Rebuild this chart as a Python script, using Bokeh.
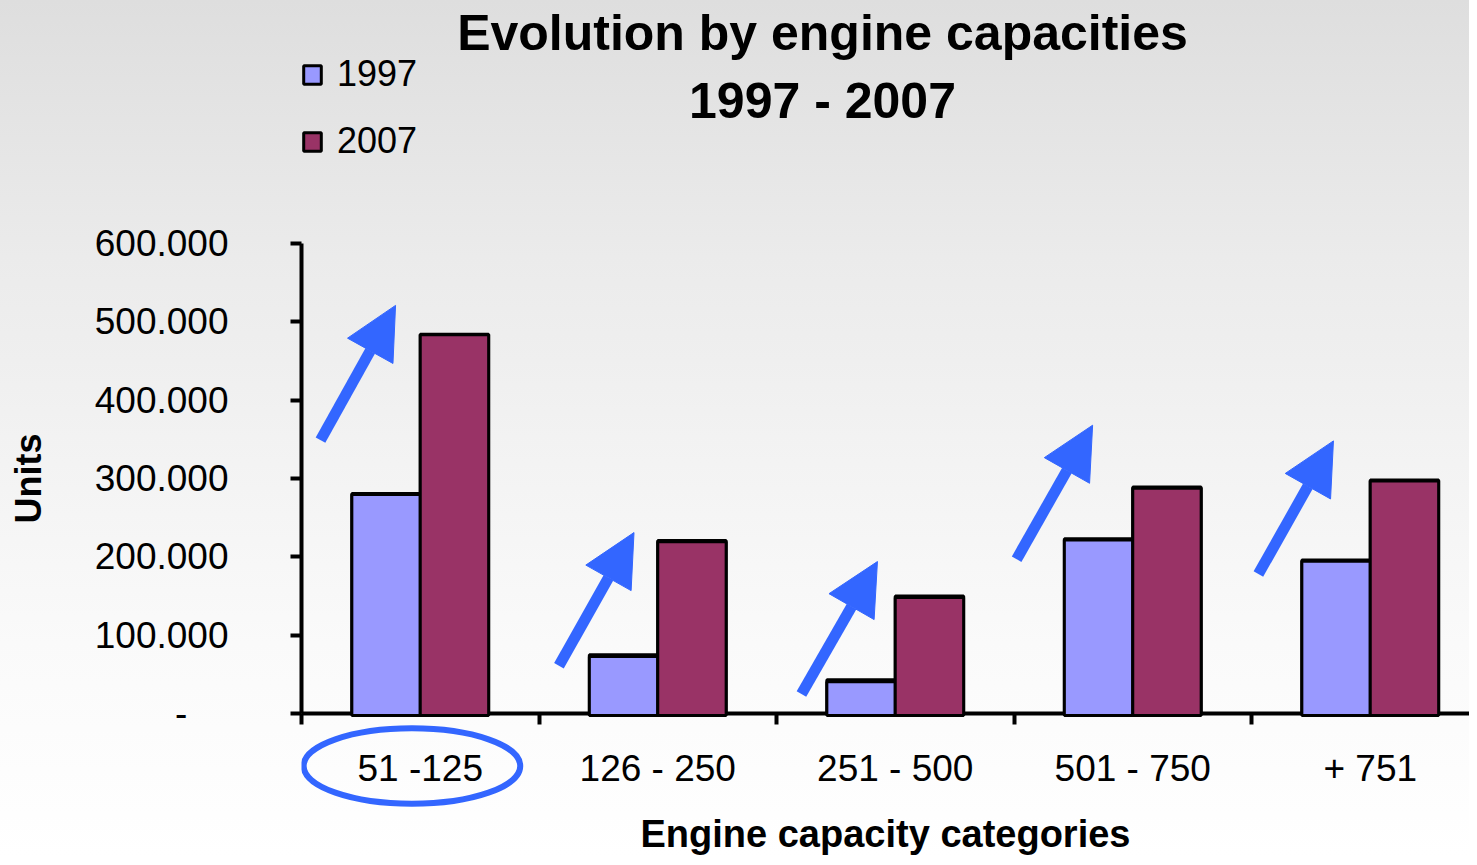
import numpy as np
from bokeh.plotting import figure
from bokeh.layouts import column
from bokeh.models import (FixedTicker, Arrow, NormalHead, Label, Legend, LegendItem,
                          Range1d, ColumnDataSource)
from bokeh.embed import file_html
from bokeh.resources import INLINE

# ---- data ----
categories = ["51 -125", "126 - 250", "251 - 500", "501 - 750", "+ 751"]
units_1997 = [281000, 75000, 43000, 223000, 196000]
units_2007 = [484000, 221000, 150000, 289000, 298000]
y_ticks = [0, 100000, 200000, 300000, 400000, 500000, 600000]
y_tick_labels = ["-\u00a0\u00a0\u00a0\u00a0", "100.000", "200.000", "300.000",
                 "400.000", "500.000", "600.000"]
series = ["1997", "2007"]

# decorative arrows (relative x within category, value units)
arrow_x0 = [0.08, 0.084, 0.105, 0.011, 0.029]
arrow_y0 = [349000, 61000, 25000, 197000, 178000]
arrow_x1 = [0.396, 0.40, 0.425, 0.331, 0.345]
arrow_y1 = [521000, 231000, 194000, 368000, 348000]

C1997 = "#9999FF"
C2007 = "#993366"
BLUE = "#3366FF"
FONT = "Liberation Sans"

W, H = 1469, 857
FL, FT, FB = 301, 243, 715      # frame left / top / bottom (px)
CATW = 237.5
YMAX = 600000
PX = (FB - FT) / YMAX           # px per unit
XR = (W - FL) / CATW

idx = np.arange(len(categories))
src = ColumnDataSource(dict(x1=idx + 0.5 - 0.144, x2=idx + 0.5 + 0.144,
                            v1=units_1997, v2=units_2007))
bar_kw = dict(width=0.288, bottom=0, source=src, line_color="black", line_width=3)

p = figure(width=W, height=H, output_backend="svg", toolbar_location=None,
           x_range=Range1d(0, XR), y_range=Range1d(0, YMAX),
           min_border_left=FL, min_border_right=0, min_border_top=FT,
           min_border_bottom=H - FB)
p.background_fill_alpha = 0
p.border_fill_alpha = 0
p.outline_line_color = None
p.xgrid.visible = False
p.ygrid.visible = False

p.vbar(x="x1", top="v1", fill_color=C1997, **bar_kw)
p.vbar(x="x2", top="v2", fill_color=C2007, **bar_kw)

# x axis: labels at category centres, tick marks at category boundaries
xa = p.xaxis[0]
xa.ticker = FixedTicker(ticks=list(idx + 0.5), minor_ticks=list(range(len(categories) + 1)))
xa.major_label_overrides = {float(i + 0.5): c for i, c in enumerate(categories)}
xa.major_tick_line_color = None
xa.major_tick_out = 0
xa.major_tick_in = 0
xa.minor_tick_out = 11
xa.minor_tick_in = 0
xa.minor_tick_line_width = 4
xa.minor_tick_line_color = "black"
xa.axis_line_width = 4
xa.axis_line_color = "black"
xa.major_label_text_font = FONT
xa.major_label_text_font_size = "37px"
xa.major_label_text_color = "black"
xa.major_label_standoff = 23
xa.axis_label = "Engine capacity categories"
xa.axis_label_text_font = FONT
xa.axis_label_text_font_size = "38px"
xa.axis_label_text_font_style = "bold"
xa.axis_label_text_color = "black"
xa.axis_label_standoff = 21

ya = p.yaxis[0]
ya.ticker = FixedTicker(ticks=y_ticks, minor_ticks=[])
ya.major_label_overrides = {t: l for t, l in zip(y_ticks, y_tick_labels)}
ya.major_tick_out = 11
ya.major_tick_in = 0
ya.major_tick_line_width = 4
ya.axis_line_width = 4
ya.minor_tick_line_color = None
ya.major_label_text_font = FONT
ya.major_label_text_font_size = "37px"
ya.major_label_text_color = "black"
ya.major_label_standoff = 62
ya.axis_label = "Units"
ya.axis_label_text_font = FONT
ya.axis_label_text_font_size = "36px"
ya.axis_label_text_font_style = "bold"
ya.axis_label_text_color = "black"
ya.axis_label_standoff = 43

# arrows
for i in range(len(categories)):
    p.add_layout(Arrow(x_start=i + arrow_x0[i], y_start=arrow_y0[i],
                       x_end=i + arrow_x1[i], y_end=arrow_y1[i],
                       line_color=BLUE, line_width=11,
                       end=NormalHead(size=52, fill_color=BLUE, line_color=BLUE, line_width=1)))

# ---- transparent overlay covering the whole canvas, same scales ----
ov = figure(width=W, height=H, output_backend="svg", toolbar_location=None,
            x_range=Range1d(0, XR),
            y_range=Range1d(-(H - FB) / PX, FB / PX),
            min_border=0, x_axis_location=None, y_axis_location=None)
ov.background_fill_alpha = 0
ov.border_fill_alpha = 0
ov.outline_line_color = None
ov.xgrid.visible = False
ov.ygrid.visible = False
ov.styles = {"position": "absolute", "top": "0px", "left": "0px"}

# same bars (same source, same scale) drawn on the overlay so the legend can use them
k1 = ov.vbar(x="x1", top="v1", fill_color=C1997, **bar_kw)
k2 = ov.vbar(x="x2", top="v2", fill_color=C2007, **bar_kw)

legend = Legend(items=[LegendItem(label=series[0], renderers=[k1]),
                       LegendItem(label=series[1], renderers=[k2])],
                location=(0, 695), glyph_width=22, glyph_height=23,
                label_text_font=FONT, label_text_font_size="36px",
                label_text_color="black",
                label_standoff=14, spacing=25, padding=0, margin=0,
                border_line_alpha=0, background_fill_alpha=0)
ov.add_layout(legend, "center")

# ellipse highlighting the first category label
ov.ellipse(x=[0.465], y=[-64200], width=0.912, height=96000,
           fill_alpha=0, line_color=BLUE, line_width=6)

title_x = (822 - FL) / CATW
for txt, py in [("Evolution by engine capacities", 32), ("1997 - 2007", 100)]:
    ov.add_layout(Label(x=title_x, y=(FB - py) / PX, text=txt,
                        text_font=FONT, text_font_size="50px", text_font_style="bold",
                        text_color="black", text_align="center", text_baseline="middle"))

layout = column(p, ov)
layout.styles = {"position": "relative",
                 "background": "linear-gradient(to bottom, #dedede 0%, #ebebeb 30%, #fafafa 75%, #ffffff 100%)"}

open("out.html", "w").write(file_html(layout, INLINE))
